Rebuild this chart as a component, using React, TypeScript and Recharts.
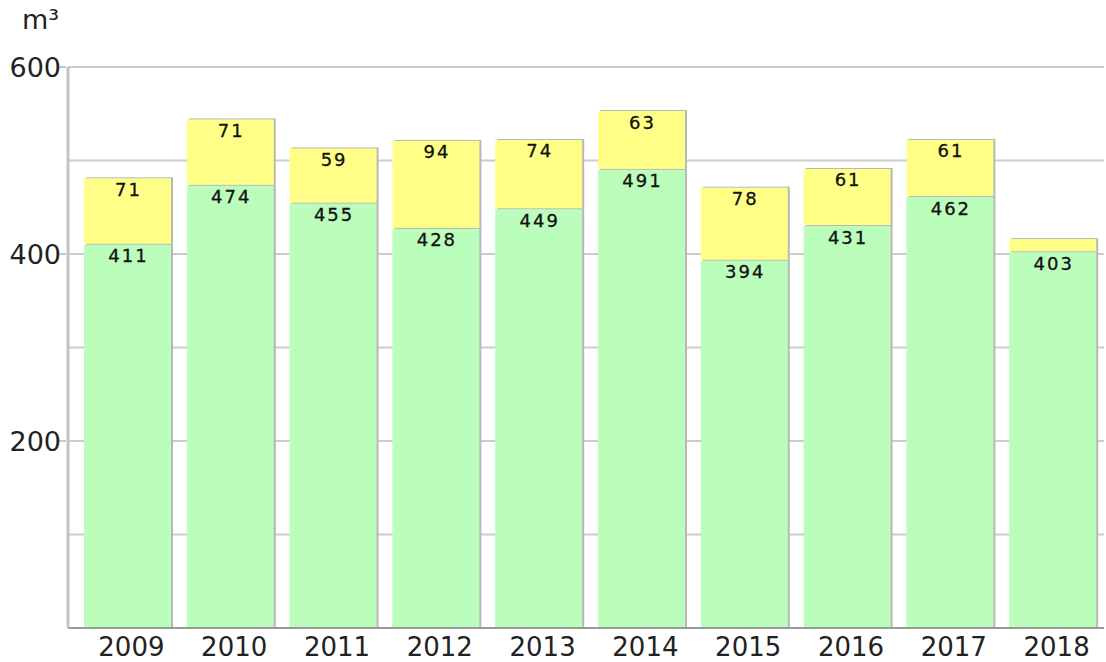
import { BarChart, Bar, XAxis, YAxis, CartesianGrid, LabelList } from 'recharts';

const years = ['2009', '2010', '2011', '2012', '2013', '2014', '2015', '2016', '2017', '2018'];
const baseValues = [411, 474, 455, 428, 449, 491, 394, 431, 462, 403];
const extraValues = [71, 71, 59, 94, 74, 63, 78, 61, 61, 14];
const yTicks = [0, 100, 200, 300, 400, 500, 600];
const labeledTicks = [200, 400, 600];

const GREEN = '#bbfdbb';
const YELLOW = '#ffff88';
const TEXT = '#222';
const FONT = 'DejaVu Sans, Verdana, sans-serif';

const data = years.map((year, i) => ({ year, base: baseValues[i], extra: extraValues[i] }));

function ShadowBar(props: any) {
  const { x, y, width, height, fill } = props;
  if (!height || height <= 0) return null;
  return (
    <g>
      <rect x={x + 2} y={y} width={width} height={height} fill="#b8b8b8" />
      <rect x={x} y={y + 1} width={width} height={height - 1} fill={fill} />
    </g>
  );
}

function SegmentLabel(props: any) {
  const { x, y, width, height, value } = props;
  if (height < 22) return null;
  return (
    <text
      x={x + width / 2 + 1}
      y={y + 12}
      textAnchor="middle"
      dominantBaseline="central"
      fontFamily={FONT}
      fontSize={18}
      letterSpacing={2}
      stroke="#111"
      strokeWidth={0.3}
      fill="#111"
    >
      {value}
    </text>
  );
}

function YTick(props: any) {
  const { x, y, payload } = props;
  if (!labeledTicks.includes(payload.value)) return null;
  return (
    <g>
      <line x1={x - 2} x2={x + 6} y1={y} y2={y} stroke="#c8c8c8" strokeWidth={2} />
      <text
        x={x + 1}
        y={y}
        textAnchor="end"
        dominantBaseline="central"
        fontFamily={FONT}
        fontSize={27}
        fill={TEXT}
      >
        {payload.value}
      </text>
    </g>
  );
}

export default function App() {
  return (
    <div style={{ position: 'absolute', left: 0, top: 0, width: 1106, height: 662, background: '#fff' }}>
      <div
        style={{
          position: 'absolute',
          left: 22,
          top: 4,
          fontFamily: FONT,
          fontSize: 27,
          color: TEXT,
        }}
      >
        m³
      </div>
      <BarChart
        width={1106}
        height={662}
        data={data}
        margin={{ top: 67, right: 2, left: 0, bottom: 0 }}
        barSize={87}
      >
        <CartesianGrid vertical={false} stroke="#cccccc" strokeWidth={2} />
        <XAxis
          dataKey="year"
          height={34}
          padding={{ left: 8, right: 0 }}
          tickLine={false}
          axisLine={{ stroke: '#999', strokeWidth: 2 }}
          tickMargin={4}
          dx={4}
          tick={{ fill: TEXT, fontSize: 26, fontFamily: FONT }}
        />
        <YAxis
          width={68}
          domain={[0, 600]}
          ticks={yTicks}
          interval={0}
          tickLine={false}
          axisLine={{ stroke: '#c4c4c4', strokeWidth: 3 }}
          tick={<YTick />}
        />
        <Bar dataKey="base" stackId="a" fill={GREEN} shape={<ShadowBar />} isAnimationActive={false}>
          <LabelList dataKey="base" content={<SegmentLabel />} />
        </Bar>
        <Bar dataKey="extra" stackId="a" fill={YELLOW} shape={<ShadowBar />} isAnimationActive={false}>
          <LabelList dataKey="extra" content={<SegmentLabel />} />
        </Bar>
      </BarChart>
    </div>
  );
}
